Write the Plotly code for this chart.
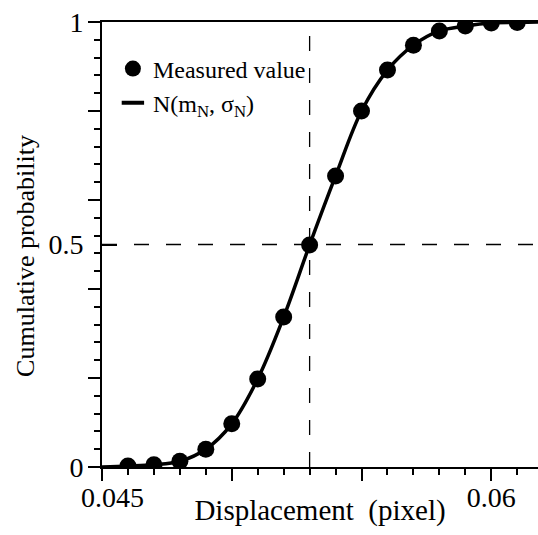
import plotly.graph_objects as go

# Measured cumulative probabilities of the displacement
disp = [0.046, 0.047, 0.048, 0.049, 0.050, 0.051, 0.052, 0.053,
        0.054, 0.055, 0.056, 0.057, 0.058, 0.059, 0.060, 0.061]
cum_prob = [0.002, 0.005, 0.013, 0.040, 0.097, 0.198, 0.337, 0.499,
            0.654, 0.800, 0.892, 0.948, 0.980, 0.991, 0.998, 0.999]

# Fitted normal CDF, traced through the measured points and out to the axis ends
fit_x = [0.045] + disp + [0.0619]
fit_y = [0.0] + cum_prob + [1.0]

mean_disp = 0.053
median_prob = 0.5

x_range = [0.045, 0.0618]
y_range = [0.0, 1.0]

x_major = [0.045, 0.05, 0.055, 0.06]
x_label_vals = [0.045, 0.06]
x_label_text = ["\u00a0\u00a0\u00a00.045", "0.06"]
y_major = [0.0, 0.2, 0.4, 0.6, 0.8, 1.0]
y_label_vals = [0.0, 0.5, 1.0]
y_label_text = ["0", "0.5", "1"]

SERIF = "Liberation Serif, Times New Roman, serif"
CLEAR = "rgba(0,0,0,0)"

fig = go.Figure()

fig.add_trace(go.Scatter(
    x=fit_x, y=fit_y, mode="lines", line=dict(color="black", width=3.5, shape="spline"),
    showlegend=False, hoverinfo="skip",
))
fig.add_trace(go.Scatter(
    x=disp, y=cum_prob, mode="markers", name="Measured value",
    marker=dict(color="black", size=17, symbol="circle"),
))
# legend entry for the fitted curve
fig.add_trace(go.Scatter(
    x=[None], y=[None], mode="markers", name="N(m<sub>N</sub>, σ<sub>N</sub>)",
    marker=dict(color="black", size=16, symbol="line-ew", line=dict(color="black", width=4)),
))

# dashed guides at the mean and at probability 0.5
fig.add_shape(type="line", x0=mean_disp, x1=mean_disp, y0=y_range[0], y1=y_range[1],
              xref="x", yref="y", line=dict(color="black", width=1.3, dash="15px,17px"),
              layer="below")
fig.add_shape(type="line", x0=x_range[0], x1=x_range[1], y0=median_prob, y1=median_prob,
              xref="x", yref="y", line=dict(color="black", width=1.3, dash="15px,17px"),
              layer="below")

# overlay axes: tick labels, and the inward tick at 0.5
fig.add_trace(go.Scatter(x=[None], y=[None], xaxis="x2", yaxis="y2",
                         showlegend=False, hoverinfo="skip"))
fig.add_trace(go.Scatter(x=[None], y=[None], yaxis="y3",
                         showlegend=False, hoverinfo="skip"))

fig.update_layout(
    width=538, height=535,
    margin=dict(l=102, r=0, t=22, b=68),
    paper_bgcolor="white", plot_bgcolor="white",
    font=dict(family=SERIF, color="black", size=28),
    showlegend=True,
    legend=dict(x=0.025, y=0.945, xanchor="left", yanchor="top",
                font=dict(family=SERIF, size=24, color="black"),
                bgcolor=CLEAR, itemsizing="trace"),
    xaxis=dict(
        range=x_range, showgrid=False, zeroline=False, automargin=False,
        showline=True, linecolor="black", linewidth=2, mirror=True,
        tickmode="array", tickvals=x_major, showticklabels=False,
        ticks="outside", ticklen=12, tickwidth=1.5, tickcolor="black",
        minor=dict(dtick=0.001, tick0=0.045, ticks="outside", ticklen=6,
                   tickwidth=1.5, tickcolor="black", showgrid=False),
        title=dict(text="Displacement  (pixel)", font=dict(size=29), standoff=20),
    ),
    xaxis2=dict(
        overlaying="x", anchor="y", side="bottom", range=x_range,
        showgrid=False, zeroline=False, automargin=False, showline=False,
        tickmode="array", tickvals=x_label_vals, ticktext=x_label_text,
        ticks="outside", ticklen=5, tickcolor=CLEAR, tickfont=dict(size=28),
    ),
    yaxis=dict(
        range=y_range, showgrid=False, zeroline=False, automargin=False,
        showline=True, linecolor="black", linewidth=2,
        tickmode="array", tickvals=y_major, showticklabels=False,
        ticks="outside", ticklen=12, tickwidth=1.5, tickcolor="black",
        minor=dict(dtick=0.04, tick0=0, ticks="outside", ticklen=6,
                   tickwidth=1.5, tickcolor="black", showgrid=False),
    ),
    yaxis2=dict(
        overlaying="y", anchor="x2", side="left", range=y_range, showgrid=False,
        zeroline=False, automargin=False, showline=False,
        tickmode="array", tickvals=y_label_vals, ticktext=y_label_text,
        ticks="outside", ticklen=12, tickcolor=CLEAR, tickfont=dict(size=28),
    ),
    yaxis3=dict(
        overlaying="y", side="left", range=y_range, showgrid=False, zeroline=False,
        automargin=False, showline=False, showticklabels=False,
        tickmode="array", tickvals=[median_prob],
        ticks="inside", ticklen=15, tickwidth=1.5, tickcolor="black",
    ),
    annotations=[dict(
        text="Cumulative probability", textangle=-90, showarrow=False,
        xref="paper", yref="paper", x=-0.177, y=0.474,
        xanchor="center", yanchor="middle", font=dict(size=26),
    )],
)

fig.write_html("out.html")
